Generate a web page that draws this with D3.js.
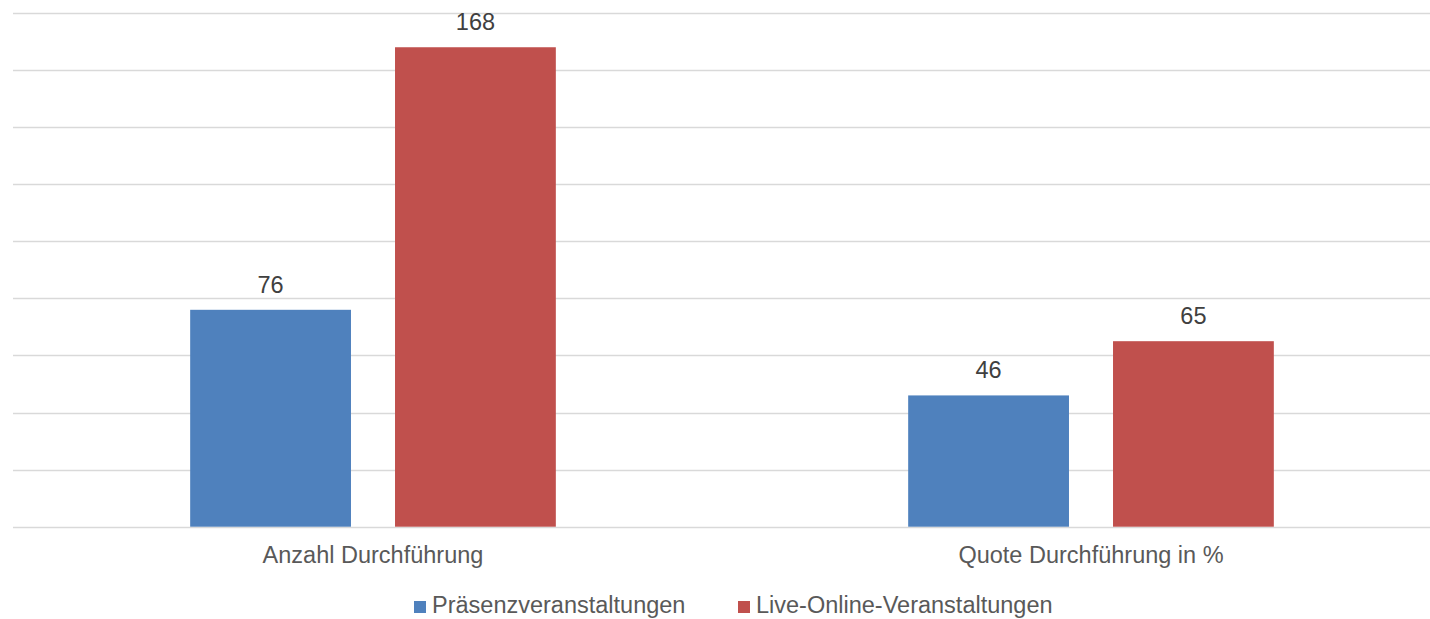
<!DOCTYPE html>
<html><head><meta charset="utf-8">
<script src="https://cdn.jsdelivr.net/npm/d3@7"></script>
<style>html,body{margin:0;padding:0;background:#fff;}svg{display:block;}</style>
</head><body>
<svg id="c" width="1430" height="619"></svg>
<script>
const categories = ["Anzahl Durchführung", "Quote Durchführung in %"];
const seriesNames = ["Präsenzveranstaltungen", "Live-Online-Veranstaltungen"];
const praesenz = [76, 46];
const liveOnline = [168, 65];
const yTicks = [0, 20, 40, 60, 80, 100, 120, 140, 160, 180];
const colors = ["#4F81BD", "#C0504D"];

const svg = d3.select("#c");
const font = "'Liberation Sans', Arial, sans-serif";
const x = d3.scaleBand().domain(categories).range([14, 1450]).paddingInner(0).paddingOuter(0);
const x1 = d3.scaleBand().domain(seriesNames).range([0, x.bandwidth()]).paddingInner(0.215).paddingOuter(0.86);
const y = d3.scaleLinear().domain([0, 180]).range([526.7, 13]);

svg.append("g").selectAll("line").data(yTicks).join("line")
  .attr("x1", 13).attr("x2", 1430)
  .attr("y1", d => Math.round(y(d)) + 0.5).attr("y2", d => Math.round(y(d)) + 0.5)
  .attr("stroke", "#D9D9D9").attr("stroke-width", 1.5);

const series = [praesenz, liveOnline];
series.forEach((vals, si) => {
  const g = svg.append("g");
  g.selectAll("rect").data(categories).join("rect")
    .attr("x", c => x(c) + x1(seriesNames[si]))
    .attr("width", x1.bandwidth())
    .attr("y", (c, i) => y(vals[i]))
    .attr("height", (c, i) => y(0) - y(vals[i]))
    .attr("fill", colors[si]);
  g.selectAll("text").data(categories).join("text")
    .attr("x", c => x(c) + x1(seriesNames[si]) + x1.bandwidth() / 2)
    .attr("y", (c, i) => y(vals[i]) - 17)
    .attr("text-anchor", "middle")
    .attr("font-family", font).attr("font-size", 23.5).attr("fill", "#404040")
    .text((c, i) => vals[i]);
});

svg.append("g").selectAll("text").data(categories).join("text")
  .attr("x", c => x(c) + x.bandwidth() / 2)
  .attr("y", 563)
  .attr("text-anchor", "middle")
  .attr("font-family", font).attr("font-size", 23.5).attr("fill", "#595959")
  .text(d => d);

const legendX = [414, 738];
const lg = svg.append("g");
seriesNames.forEach((s, i) => {
  lg.append("rect").attr("x", legendX[i]).attr("y", 601).attr("width", 12).attr("height", 12).attr("fill", colors[i]);
  lg.append("text").attr("x", legendX[i] + 18).attr("y", 613)
    .attr("font-family", font).attr("font-size", 23.5).attr("fill", "#595959").text(s);
});
</script>
</body></html>
